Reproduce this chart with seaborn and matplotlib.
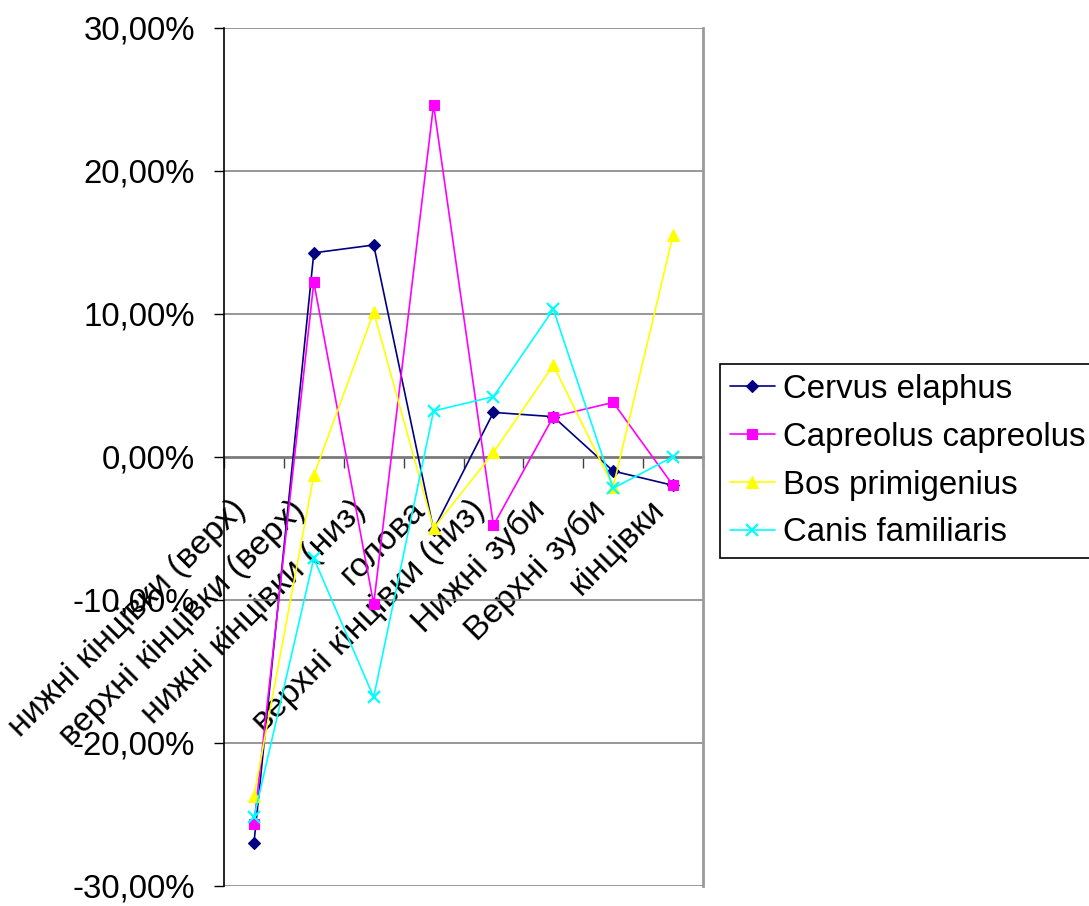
import numpy as np
import pandas as pd
import matplotlib
matplotlib.use("Agg")
import matplotlib.pyplot as plt
import matplotlib.transforms as mtransforms
from matplotlib.ticker import FixedLocator, FuncFormatter
import seaborn as sns

# Body-part categories along the x axis
categories = [
    "нижні кінцівки (верх)",
    "верхні кінцівки (верх)",
    "нижні кінцівки (низ)",
    "голова",
    "верхні кінцівки (низ)",
    "Нижні зуби",
    "Верхні зуби",
    "кінцівки",
]

# Deviation per species, in percent
cervus_elaphus = [-27.0, 14.25, 14.8, -5.1, 3.1, 2.8, -1.0, -2.0]
capreolus_capreolus = [-25.7, 12.2, -10.3, 24.6, -4.8, 2.8, 3.8, -2.0]
bos_primigenius = [-23.7, -1.3, 10.1, -5.0, 0.3, 6.4, -2.1, 15.5]
canis_familiaris = [-25.2, -7.1, -16.8, 3.2, 4.2, 10.3, -2.2, 0.0]

series_names = ["Cervus elaphus", "Capreolus capreolus", "Bos primigenius", "Canis familiaris"]
series_values = [cervus_elaphus, capreolus_capreolus, bos_primigenius, canis_familiaris]

y_ticks = [-30, -20, -10, 0, 10, 20, 30]

colors = ["#000080", "#FF00FF", "#FFFF00", "#00FFFF"]
markers = ["D", "s", "^", "x"]
msizes = [6.5, 7, 8.5, 8.5]

sns.set_style("white")
plt.rcParams["font.family"] = ["Liberation Sans", "DejaVu Sans"]
plt.rcParams["text.color"] = "black"
plt.rcParams["xtick.color"] = "black"
plt.rcParams["ytick.color"] = "black"
plt.rcParams["xtick.labelcolor"] = "black"
plt.rcParams["ytick.labelcolor"] = "black"
FS = 23.8
FS_X = 24.5

fig = plt.figure(figsize=(10.89, 9.06), dpi=100)
ax = fig.add_axes([224 / 1089, 1 - 886 / 906, (703 - 224) / 1089, (886 - 27.5) / 906])

pos = np.arange(len(categories))
for name, vals, c, m, ms in zip(series_names, series_values, colors, markers, msizes):
    sns.lineplot(x=pos, y=vals, ax=ax, color=c, marker=m, markersize=ms,
                 markeredgecolor=c, markerfacecolor=c,
                 markeredgewidth=1.6 if m == "x" else 0.8,
                 linewidth=1.2, label=name, legend=False, clip_on=False, zorder=3)

ax.set_xlim(-0.5, len(categories) - 0.5)
ax.set_ylim(y_ticks[0], y_ticks[-1])
ax.set_xlabel("")
ax.set_ylabel("")

# Horizontal gridlines
for v in y_ticks:
    if v != 0:
        ax.axhline(v, color="#7a7a7a", linewidth=1.1, zorder=1)

# Y axis
ax.yaxis.set_major_locator(FixedLocator(y_ticks))
ax.yaxis.set_major_formatter(FuncFormatter(lambda v, p: f"{v:.2f}".replace(".", ",") + "%"))
ax.tick_params(axis="y", which="major", direction="out", length=7, width=1,
               color="black", labelcolor="black", labelsize=FS, pad=14, left=True)
ax.spines["left"].set_color("black")
ax.spines["left"].set_linewidth(1.2)

# Category axis crossing at zero
ax.spines["bottom"].set_position(("data", 0))
ax.spines["bottom"].set_color("#7a7a7a")
ax.spines["bottom"].set_linewidth(2)
ax.spines["bottom"].set_zorder(2)
ax.spines["top"].set_visible(False)
ax.spines["right"].set_color("#9a9a9a")
ax.spines["right"].set_linewidth(2)

ax.xaxis.set_major_locator(FixedLocator(pos))
ax.xaxis.set_minor_locator(FixedLocator(np.arange(len(categories) + 1) - 0.5))
ax.set_xticklabels(categories, rotation=45, ha="right", va="top", rotation_mode="anchor")
ax.tick_params(axis="x", which="major", length=0, labelsize=FS_X, labelcolor="black",
               pad=27, bottom=True)
ax.tick_params(axis="x", which="minor", direction="out", length=8, width=1,
               color="#404040", bottom=True)
shift = mtransforms.ScaledTranslation(-24 / 100, 0, fig.dpi_scale_trans)
for lbl in ax.get_xticklabels():
    lbl.set_transform(lbl.get_transform() + shift)

# Legend box at the right
leg = fig.legend(loc="upper left", bbox_to_anchor=(720 / 1089, 1 - 364 / 906),
                 borderaxespad=0, fontsize=FS, frameon=True, fancybox=False,
                 framealpha=1, edgecolor="black", handlelength=1.35,
                 handletextpad=0.25, borderpad=0.3, labelspacing=0.51)
leg.get_frame().set_linewidth(1.2)
for t in leg.get_texts():
    t.set_color("black")

fig.savefig("out.png", dpi=100, facecolor="white")
